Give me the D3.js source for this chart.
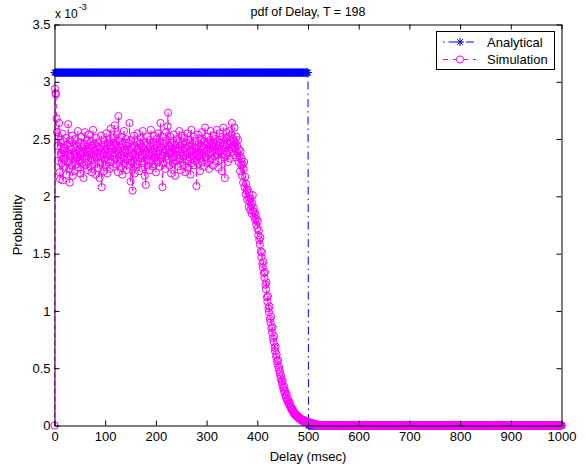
<!DOCTYPE html>
<html>
<head>
<meta charset="utf-8">
<script src="https://cdn.jsdelivr.net/npm/d3@7"></script>
<style>
  body { margin: 0; background: #fff; }
  svg { display: block; font-family: "Liberation Sans", Arial, Helvetica, sans-serif; }
  text { fill: #000; }
</style>
</head>
<body>
<div id="chart"></div>
<script>
// delay axis, msec (one sample per msec)
var delays = d3.range(0, 1001, 1);

// analytical pdf (x 10^-3): 0..500 msec, then 501..1000 msec
var analytical = [
  3.08,3.08,3.08,3.08,3.08,3.08,3.08,3.08,3.08,3.08,3.08,3.08,3.08,3.08,3.08,3.08,3.08,3.08,3.08,3.08,3.08,3.08,3.08,3.08,3.08,
  3.08,3.08,3.08,3.08,3.08,3.08,3.08,3.08,3.08,3.08,3.08,3.08,3.08,3.08,3.08,3.08,3.08,3.08,3.08,3.08,3.08,3.08,3.08,3.08,3.08,
  3.08,3.08,3.08,3.08,3.08,3.08,3.08,3.08,3.08,3.08,3.08,3.08,3.08,3.08,3.08,3.08,3.08,3.08,3.08,3.08,3.08,3.08,3.08,3.08,3.08,
  3.08,3.08,3.08,3.08,3.08,3.08,3.08,3.08,3.08,3.08,3.08,3.08,3.08,3.08,3.08,3.08,3.08,3.08,3.08,3.08,3.08,3.08,3.08,3.08,3.08,
  3.08,3.08,3.08,3.08,3.08,3.08,3.08,3.08,3.08,3.08,3.08,3.08,3.08,3.08,3.08,3.08,3.08,3.08,3.08,3.08,3.08,3.08,3.08,3.08,3.08,
  3.08,3.08,3.08,3.08,3.08,3.08,3.08,3.08,3.08,3.08,3.08,3.08,3.08,3.08,3.08,3.08,3.08,3.08,3.08,3.08,3.08,3.08,3.08,3.08,3.08,
  3.08,3.08,3.08,3.08,3.08,3.08,3.08,3.08,3.08,3.08,3.08,3.08,3.08,3.08,3.08,3.08,3.08,3.08,3.08,3.08,3.08,3.08,3.08,3.08,3.08,
  3.08,3.08,3.08,3.08,3.08,3.08,3.08,3.08,3.08,3.08,3.08,3.08,3.08,3.08,3.08,3.08,3.08,3.08,3.08,3.08,3.08,3.08,3.08,3.08,3.08,
  3.08,3.08,3.08,3.08,3.08,3.08,3.08,3.08,3.08,3.08,3.08,3.08,3.08,3.08,3.08,3.08,3.08,3.08,3.08,3.08,3.08,3.08,3.08,3.08,3.08,
  3.08,3.08,3.08,3.08,3.08,3.08,3.08,3.08,3.08,3.08,3.08,3.08,3.08,3.08,3.08,3.08,3.08,3.08,3.08,3.08,3.08,3.08,3.08,3.08,3.08,
  3.08,3.08,3.08,3.08,3.08,3.08,3.08,3.08,3.08,3.08,3.08,3.08,3.08,3.08,3.08,3.08,3.08,3.08,3.08,3.08,3.08,3.08,3.08,3.08,3.08,
  3.08,3.08,3.08,3.08,3.08,3.08,3.08,3.08,3.08,3.08,3.08,3.08,3.08,3.08,3.08,3.08,3.08,3.08,3.08,3.08,3.08,3.08,3.08,3.08,3.08,
  3.08,3.08,3.08,3.08,3.08,3.08,3.08,3.08,3.08,3.08,3.08,3.08,3.08,3.08,3.08,3.08,3.08,3.08,3.08,3.08,3.08,3.08,3.08,3.08,3.08,
  3.08,3.08,3.08,3.08,3.08,3.08,3.08,3.08,3.08,3.08,3.08,3.08,3.08,3.08,3.08,3.08,3.08,3.08,3.08,3.08,3.08,3.08,3.08,3.08,3.08,
  3.08,3.08,3.08,3.08,3.08,3.08,3.08,3.08,3.08,3.08,3.08,3.08,3.08,3.08,3.08,3.08,3.08,3.08,3.08,3.08,3.08,3.08,3.08,3.08,3.08,
  3.08,3.08,3.08,3.08,3.08,3.08,3.08,3.08,3.08,3.08,3.08,3.08,3.08,3.08,3.08,3.08,3.08,3.08,3.08,3.08,3.08,3.08,3.08,3.08,3.08,
  3.08,3.08,3.08,3.08,3.08,3.08,3.08,3.08,3.08,3.08,3.08,3.08,3.08,3.08,3.08,3.08,3.08,3.08,3.08,3.08,3.08,3.08,3.08,3.08,3.08,
  3.08,3.08,3.08,3.08,3.08,3.08,3.08,3.08,3.08,3.08,3.08,3.08,3.08,3.08,3.08,3.08,3.08,3.08,3.08,3.08,3.08,3.08,3.08,3.08,3.08,
  3.08,3.08,3.08,3.08,3.08,3.08,3.08,3.08,3.08,3.08,3.08,3.08,3.08,3.08,3.08,3.08,3.08,3.08,3.08,3.08,3.08,3.08,3.08,3.08,3.08,
  3.08,3.08,3.08,3.08,3.08,3.08,3.08,3.08,3.08,3.08,3.08,3.08,3.08,3.08,3.08,3.08,3.08,3.08,3.08,3.08,3.08,3.08,3.08,3.08,3.08,
  3.08,
  0,0,0,0,0,0,0,0,0,0,0,0,0,0,0,0,0,0,0,0,0,0,0,0,0,
  0,0,0,0,0,0,0,0,0,0,0,0,0,0,0,0,0,0,0,0,0,0,0,0,0,
  0,0,0,0,0,0,0,0,0,0,0,0,0,0,0,0,0,0,0,0,0,0,0,0,0,
  0,0,0,0,0,0,0,0,0,0,0,0,0,0,0,0,0,0,0,0,0,0,0,0,0,
  0,0,0,0,0,0,0,0,0,0,0,0,0,0,0,0,0,0,0,0,0,0,0,0,0,
  0,0,0,0,0,0,0,0,0,0,0,0,0,0,0,0,0,0,0,0,0,0,0,0,0,
  0,0,0,0,0,0,0,0,0,0,0,0,0,0,0,0,0,0,0,0,0,0,0,0,0,
  0,0,0,0,0,0,0,0,0,0,0,0,0,0,0,0,0,0,0,0,0,0,0,0,0,
  0,0,0,0,0,0,0,0,0,0,0,0,0,0,0,0,0,0,0,0,0,0,0,0,0,
  0,0,0,0,0,0,0,0,0,0,0,0,0,0,0,0,0,0,0,0,0,0,0,0,0,
  0,0,0,0,0,0,0,0,0,0,0,0,0,0,0,0,0,0,0,0,0,0,0,0,0,
  0,0,0,0,0,0,0,0,0,0,0,0,0,0,0,0,0,0,0,0,0,0,0,0,0,
  0,0,0,0,0,0,0,0,0,0,0,0,0,0,0,0,0,0,0,0,0,0,0,0,0,
  0,0,0,0,0,0,0,0,0,0,0,0,0,0,0,0,0,0,0,0,0,0,0,0,0,
  0,0,0,0,0,0,0,0,0,0,0,0,0,0,0,0,0,0,0,0,0,0,0,0,0,
  0,0,0,0,0,0,0,0,0,0,0,0,0,0,0,0,0,0,0,0,0,0,0,0,0,
  0,0,0,0,0,0,0,0,0,0,0,0,0,0,0,0,0,0,0,0,0,0,0,0,0,
  0,0,0,0,0,0,0,0,0,0,0,0,0,0,0,0,0,0,0,0,0,0,0,0,0,
  0,0,0,0,0,0,0,0,0,0,0,0,0,0,0,0,0,0,0,0,0,0,0,0,0,
  0,0,0,0,0,0,0,0,0,0,0,0,0,0,0,0,0,0,0,0,0,0,0,0,0
];

// simulated pdf (x 10^-3), 20 msec per row
var simulation = [
  0,2.94,2.90,2.89,2.68,2.56,2.44,2.31,2.52,2.64,2.21,2.15,2.47,2.38,2.29,2.55,2.14,2.40,2.33,2.48,
  2.26,2.42,2.36,2.51,2.19,2.45,2.30,2.63,2.37,2.24,2.12,2.49,2.35,2.41,2.27,2.53,2.18,2.39,2.46,2.32,
  2.22,2.50,2.37,2.28,2.44,2.34,2.57,2.25,2.40,2.31,2.47,2.20,2.36,2.52,2.29,2.43,2.38,2.16,2.45,2.33,
  2.56,2.27,2.41,2.35,2.49,2.23,2.39,2.30,2.54,2.42,2.26,2.37,2.48,2.21,2.44,2.32,2.58,2.36,2.28,2.46,
  2.40,2.19,2.51,2.34,2.43,2.25,2.38,2.47,2.30,2.16,2.42,2.35,2.53,2.08,2.29,2.45,2.37,2.22,2.49,2.33,
  2.41,2.27,2.55,2.36,2.20,2.46,2.32,2.50,2.39,2.24,2.44,2.59,2.30,2.42,2.35,2.51,2.26,2.47,2.38,2.62,
  2.33,2.45,2.28,2.54,2.40,2.21,2.70,2.37,2.48,2.31,2.43,2.25,2.52,2.36,2.19,2.46,2.34,2.57,2.29,2.41,
  2.38,2.50,2.23,2.44,2.32,2.47,2.27,2.40,2.64,2.35,2.13,2.49,2.30,2.42,2.05,2.37,2.26,2.53,2.20,2.44,
  2.34,2.48,2.28,2.41,2.55,2.31,2.38,2.22,2.46,2.36,2.51,2.25,2.43,2.33,2.57,2.29,2.40,2.47,2.18,2.37,
  2.10,2.45,2.32,2.52,2.27,2.41,2.36,2.49,2.23,2.44,2.58,2.31,2.39,2.26,2.47,2.35,2.53,2.28,2.42,2.34,
  2.21,2.50,2.37,2.45,2.30,2.55,2.40,2.26,2.48,2.64,2.33,2.43,2.36,2.08,2.52,2.29,2.46,2.38,2.24,2.41,
  2.56,2.35,2.49,2.61,2.73,2.32,2.44,2.27,2.52,2.39,2.20,2.47,2.34,2.42,2.29,2.54,2.37,2.45,2.18,2.40,
  2.31,2.50,2.36,2.26,2.48,2.41,2.57,2.33,2.44,2.23,2.38,2.53,2.30,2.46,2.35,2.27,2.51,2.42,2.21,2.39,
  2.47,2.32,2.55,2.37,2.25,2.44,2.34,2.49,2.19,2.40,2.58,2.29,2.45,2.36,2.52,2.27,2.43,2.31,2.48,2.38,
  2.09,2.42,2.35,2.54,2.28,2.46,2.39,2.22,2.50,2.33,2.44,2.56,2.30,2.41,2.37,2.26,2.48,2.60,2.34,2.45,
  2.40,2.52,2.29,2.47,2.36,2.24,2.49,2.42,2.57,2.33,2.45,2.38,2.53,2.27,2.43,2.35,2.50,2.31,2.46,2.40,
  2.58,2.36,2.48,2.25,2.44,2.39,2.55,2.32,2.47,2.41,2.22,2.52,2.37,2.60,2.45,2.34,2.16,2.49,2.42,2.56,
  2.38,2.51,2.30,2.46,2.40,2.57,2.33,2.48,2.43,2.54,2.64,2.39,2.50,2.45,2.36,2.60,2.42,2.47,2.34,2.52,
  // 360 - 539
  2.44,2.38,2.49,2.30,2.41,2.35,2.22,2.39,2.27,2.33,2.18,2.28,2.12,2.24,2.30,2.08,2.17,2.02,2.11,2.05,
  1.97,2.06,1.99,1.91,2.03,1.95,1.88,1.98,1.92,1.85,1.94,2.01,1.87,1.90,1.82,1.86,1.79,1.84,1.75,1.80,
  1.72,1.78,1.66,1.70,1.62,1.58,1.64,1.52,1.47,1.51,1.41,1.38,1.43,1.33,1.29,1.34,1.23,1.19,1.25,1.12,
  1.08,1.13,1.02,0.99,1.04,0.93,0.90,0.95,0.85,0.81,0.86,0.76,0.73,0.78,0.68,0.65,0.69,0.60,0.62,0.56,
  0.53,0.57,0.49,0.51,0.45,0.47,0.41,0.43,0.38,0.36,0.39,0.33,0.31,0.34,0.28,0.30,0.26,0.24,0.27,0.22,
  0.21,0.23,0.19,0.18,0.20,0.16,0.17,0.14,0.15,0.13,0.14,0.11,0.12,0.10,0.11,0.09,0.10,0.08,0.09,0.08,
  0.07,0.08,0.06,0.07,0.06,0.05,0.06,0.05,0.04,0.05,0.04,0.05,0.03,0.04,0.04,0.03,0.03,0.04,0.02,0.03,
  0.03,0.02,0.03,0.02,0.02,0.01,0.02,0.02,0.01,0.01,0.02,0.01,0.01,0.01,0.005,0.01,0.005,0.01,0.005,0.005,
  0.005,0,0.005,0,0,0.005,0,0,0,0,0,0,0,0,0,0,0,0,0,0,
  // 540 - 1000
  0,0,0,0,0,0,0,0,0,0,0,0,0,0,0,0,0,0,0,0,0,0,0,0,0,
  0,0,0,0,0,0,0,0,0,0,0,0,0,0,0,0,0,0,0,0,0,0,0,0,0,
  0,0,0,0,0,0,0,0,0,0,0,0,0,0,0,0,0,0,0,0,0,0,0,0,0,
  0,0,0,0,0,0,0,0,0,0,0,0,0,0,0,0,0,0,0,0,0,0,0,0,0,
  0,0,0,0,0,0,0,0,0,0,0,0,0,0,0,0,0,0,0,0,0,0,0,0,0,
  0,0,0,0,0,0,0,0,0,0,0,0,0,0,0,0,0,0,0,0,0,0,0,0,0,
  0,0,0,0,0,0,0,0,0,0,0,0,0,0,0,0,0,0,0,0,0,0,0,0,0,
  0,0,0,0,0,0,0,0,0,0,0,0,0,0,0,0,0,0,0,0,0,0,0,0,0,
  0,0,0,0,0,0,0,0,0,0,0,0,0,0,0,0,0,0,0,0,0,0,0,0,0,
  0,0,0,0,0,0,0,0,0,0,0,0,0,0,0,0,0,0,0,0,0,0,0,0,0,
  0,0,0,0,0,0,0,0,0,0,0,0,0,0,0,0,0,0,0,0,0,0,0,0,0,
  0,0,0,0,0,0,0,0,0,0,0,0,0,0,0,0,0,0,0,0,0,0,0,0,0,
  0,0,0,0,0,0,0,0,0,0,0,0,0,0,0,0,0,0,0,0,0,0,0,0,0,
  0,0,0,0,0,0,0,0,0,0,0,0,0,0,0,0,0,0,0,0,0,0,0,0,0,
  0,0,0,0,0,0,0,0,0,0,0,0,0,0,0,0,0,0,0,0,0,0,0,0,0,
  0,0,0,0,0,0,0,0,0,0,0,0,0,0,0,0,0,0,0,0,0,0,0,0,0,
  0,0,0,0,0,0,0,0,0,0,0,0,0,0,0,0,0,0,0,0,0,0,0,0,0,
  0,0,0,0,0,0,0,0,0,0,0,0,0,0,0,0,0,0,0,0,0,0,0,0,0,
  0,0,0,0,0,0,0,0,0,0,0
];

var xTicks = [0, 100, 200, 300, 400, 500, 600, 700, 800, 900, 1000];
var yTicks = [0, 0.5, 1, 1.5, 2, 2.5, 3, 3.5];
var seriesNames = ["Analytical", "Simulation"];

console.log(delays.length, analytical.length, simulation.length);

var width = 586, height = 464;
var plotL = 54.5, plotR = 561.5, plotT = 24.5, plotB = 425.5;
var fontSize = 13;

var svg = d3.select("#chart").append("svg")
    .attr("width", width)
    .attr("height", height);

var x = d3.scaleLinear().domain([0, 1000]).range([plotL, plotR]);
var y = d3.scaleLinear().domain([0, 3.5]).range([plotB, plotT]);

var line = d3.line()
    .x(d => x(d[0]))
    .y(d => y(d[1]));

var anaPts = delays.map((d, i) => [d, analytical[i]]);
var simPts = delays.map((d, i) => [d, simulation[i]]);

var starPath = "M-4,0H4M0,-4V4M-2.8,-2.8L2.8,2.8M-2.8,2.8L2.8,-2.8";

// analytical: blue dash-dot with stars
svg.append("path")
    .attr("d", line(anaPts))
    .attr("fill", "none")
    .attr("stroke", "#0000ff")
    .attr("stroke-width", 1)
    .attr("stroke-dasharray", "8,4,1.5,4");

svg.append("g").selectAll("path")
    .data(anaPts)
    .enter().append("path")
    .attr("transform", d => `translate(${x(d[0])},${y(d[1])})`)
    .attr("d", starPath)
    .attr("fill", "none")
    .attr("stroke", "#0000ff")
    .attr("stroke-width", 1);

// simulation: magenta dashed with circles
svg.append("path")
    .attr("d", line(simPts))
    .attr("fill", "none")
    .attr("stroke", "#ff00ff")
    .attr("stroke-width", 1)
    .attr("stroke-dasharray", "5,3");

svg.append("g").selectAll("circle")
    .data(simPts)
    .enter().append("circle")
    .attr("cx", d => x(d[0]))
    .attr("cy", d => y(d[1]))
    .attr("r", 3.6)
    .attr("fill", "none")
    .attr("stroke", "#ff00ff")
    .attr("stroke-width", 1);

// axes box, ticks inside on all sides
var fmt = d => String(d);

svg.append("g")
    .attr("transform", `translate(0,${plotB})`)
    .call(d3.axisBottom(x).tickValues(xTicks).tickSizeInner(-5).tickSizeOuter(0).tickPadding(6).tickFormat(fmt));
svg.append("g")
    .attr("transform", `translate(0,${plotT})`)
    .call(d3.axisTop(x).tickValues(xTicks).tickSizeInner(-5).tickSizeOuter(0).tickFormat(""));
svg.append("g")
    .attr("transform", `translate(${plotL},0)`)
    .call(d3.axisLeft(y).tickValues(yTicks).tickSizeInner(-5).tickSizeOuter(0).tickPadding(4).tickFormat(fmt));
svg.append("g")
    .attr("transform", `translate(${plotR},0)`)
    .call(d3.axisRight(y).tickValues(yTicks).tickSizeInner(-5).tickSizeOuter(0).tickFormat(""));

svg.selectAll(".domain").attr("stroke", "#000");
svg.selectAll(".tick line").attr("stroke", "#000");
svg.selectAll(".tick text")
    .attr("font-size", fontSize)
    .attr("font-family", "Liberation Sans, Arial, sans-serif");

// exponent label
var expo = svg.append("text")
    .attr("x", 55)
    .attr("y", 18)
    .attr("font-size", 12);
expo.append("tspan").text("x 10");
expo.append("tspan").attr("dx", 1).attr("dy", -8).attr("font-size", 9).text("-3");

// title and axis labels
svg.append("text")
    .attr("x", (plotL + plotR) / 2)
    .attr("y", 16)
    .attr("text-anchor", "middle")
    .attr("font-size", 12.5)
    .text("pdf of Delay, T = 198");

svg.append("text")
    .attr("x", (plotL + plotR) / 2)
    .attr("y", 461)
    .attr("text-anchor", "middle")
    .attr("font-size", fontSize)
    .text("Delay (msec)");

svg.append("text")
    .attr("transform", `translate(22,${(plotT + plotB) / 2}) rotate(-90)`)
    .attr("text-anchor", "middle")
    .attr("font-size", fontSize)
    .text("Probability");

// legend
var legend = svg.append("g");
legend.append("rect")
    .attr("x", 436.5).attr("y", 31.5)
    .attr("width", 118).attr("height", 38)
    .attr("fill", "#fff")
    .attr("stroke", "#000");

var legRows = legend.selectAll(".row")
    .data(seriesNames)
    .enter().append("g")
    .attr("class", "row")
    .attr("transform", (d, i) => `translate(0,${42 + i * 17.5})`);

legRows.append("line")
    .attr("x1", 443).attr("x2", 476)
    .attr("stroke", (d, i) => i ? "#ff00ff" : "#0000ff")
    .attr("stroke-dasharray", (d, i) => i ? "5,5" : "1.5,4,8,4");

legRows.filter((d, i) => i === 0).append("path")
    .attr("transform", "translate(460,0)")
    .attr("d", starPath)
    .attr("fill", "none")
    .attr("stroke", "#0000ff");

legRows.filter((d, i) => i === 1).append("circle")
    .attr("cx", 460).attr("r", 3.6)
    .attr("fill", "#fff")
    .attr("stroke", "#ff00ff");

legRows.append("text")
    .attr("x", 487)
    .attr("y", 4.5)
    .attr("font-size", fontSize)
    .text(d => d);
</script>
</body>
</html>
